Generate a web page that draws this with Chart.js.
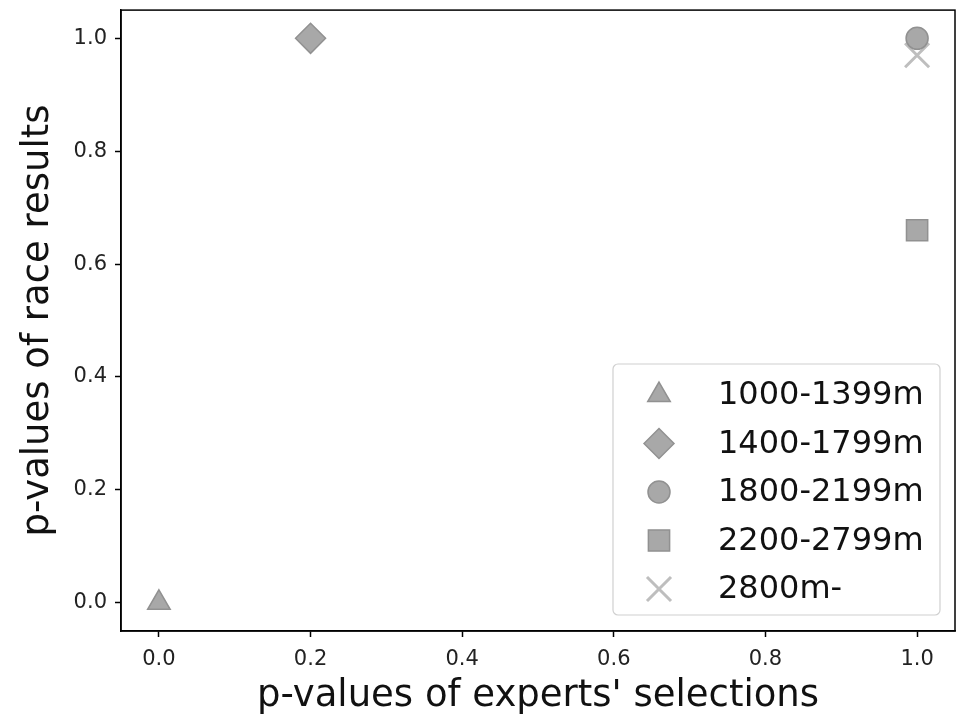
<!DOCTYPE html>
<html>
<head>
<meta charset="utf-8">
<script src="https://cdn.jsdelivr.net/npm/chart.js@4/dist/chart.umd.min.js"></script>
<style>
  body { margin: 0; background: #fff; }
  #wrap { width: 964px; height: 719px; }
</style>
</head>
<body>
<div id="wrap"><canvas id="myChart"></canvas></div>
<script>
// distance bands and their (experts p, race p) points
let labels = ['1000-1399m', '1400-1799m', '1800-2199m', '2200-2799m', '2800m-'];
let expertsP = [0.0, 0.2, 1.0, 1.0, 1.0];
let raceP = [0.0, 1.0, 1.0, 0.66, 0.97];
let shapes = ['triangle', 'rectRot', 'circle', 'rect', 'crossRot'];
let sizes = [13, 15, 11, 15, 17];
let tickVals = [0.0, 0.2, 0.4, 0.6, 0.8, 1.0];

let fill = 'rgba(168,168,168,1)';
let edge = 'rgba(145,145,145,1)';
let crossCol = 'rgba(190,190,190,1)';

let datasets = labels.map((l, i) => ({
  label: l,
  data: [{ x: expertsP[i], y: raceP[i] }],
  pointStyle: shapes[i],
  pointRadius: sizes[i],
  pointHoverRadius: sizes[i],
  backgroundColor: fill,
  borderColor: shapes[i] === 'crossRot' ? crossCol : edge,
  pointBorderWidth: shapes[i] === 'crossRot' ? 3 : 1.5
}));

// frame on all four sides + legend box inside the plot
let framePlugin = {
  id: 'frameLegend',
  afterDraw(chart) {
    let c = chart.ctx, a = chart.chartArea;
    c.save();
    c.strokeStyle = '#000';
    c.lineWidth = 1.5;
    c.strokeRect(a.left, a.top, a.right - a.left, a.bottom - a.top);

    let bx = 613, by = 364, bw = 327, bh = 251, r = 5;
    c.beginPath();
    c.moveTo(bx + r, by);
    c.arcTo(bx + bw, by, bx + bw, by + bh, r);
    c.arcTo(bx + bw, by + bh, bx, by + bh, r);
    c.arcTo(bx, by + bh, bx, by, r);
    c.arcTo(bx, by, bx + bw, by, r);
    c.closePath();
    c.fillStyle = 'rgba(255,255,255,0.85)';
    c.fill();
    c.strokeStyle = '#d0d0d0';
    c.lineWidth = 1.2;
    c.stroke();

    c.font = '32px "DejaVu Sans"';
    c.textBaseline = 'middle';
    labels.forEach((l, i) => {
      let y = 395 + i * 48.5;
      let ds = datasets[i];
      c.fillStyle = ds.backgroundColor;
      c.strokeStyle = ds.borderColor;
      c.lineWidth = ds.pointBorderWidth;
      Chart.helpers.drawPoint(c, { pointStyle: ds.pointStyle, radius: ds.pointRadius, rotation: 0, borderWidth: ds.pointBorderWidth }, 659, y);
      c.fillStyle = '#111';
      c.fillText(l, 718, y + 1);
    });
    c.restore();
  }
};

let ctx = document.getElementById('myChart').getContext('2d');
let myChart = new Chart(ctx, {
  type: 'scatter',
  data: { datasets: datasets },
  plugins: [framePlugin],
  options: {
    responsive: true,
    maintainAspectRatio: false,
    animation: false,
    layout: { autoPadding: false, padding: { top: 10, right: 9, left: 0, bottom: 0 } },
    plugins: {
      legend: { display: false },
      tooltip: { enabled: false }
    },
    scales: {
      x: {
        type: 'linear',
        min: -0.05,
        max: 1.05,
        afterBuildTicks: (s) => { s.ticks = tickVals.map(v => ({ value: v })); },
        afterFit: (s) => { s.height = 88; },
        grid: { drawOnChartArea: false, drawTicks: true, tickLength: 6, color: '#000', tickWidth: 1.5 },
        border: { color: '#000', width: 1.5 },
        ticks: { color: '#222', font: { family: 'DejaVu Sans', size: 21 }, padding: 10, maxRotation: 0,
          callback: (v) => v.toFixed(1) },
        title: { display: true, text: "p-values of experts' selections", color: '#111',
          font: { family: 'DejaVu Sans', size: 37 }, padding: { top: 0, bottom: 0 } }
      },
      y: {
        type: 'linear',
        min: -0.05,
        max: 1.05,
        afterBuildTicks: (s) => { s.ticks = tickVals.map(v => ({ value: v })); },
        afterFit: (s) => { s.width = 121; },
        grid: { drawOnChartArea: false, drawTicks: true, tickLength: 6, color: '#000', tickWidth: 1.5 },
        border: { color: '#000', width: 1.5 },
        ticks: { color: '#222', font: { family: 'DejaVu Sans', size: 21, lineHeight: 0.2 }, padding: 8,
          callback: (v) => v.toFixed(1) },
        title: { display: true, text: 'p-values of race results', color: '#111',
          font: { family: 'DejaVu Sans', size: 37 }, padding: { top: 16, bottom: 0 } }
      }
    }
  }
});
</script>
</body>
</html>
